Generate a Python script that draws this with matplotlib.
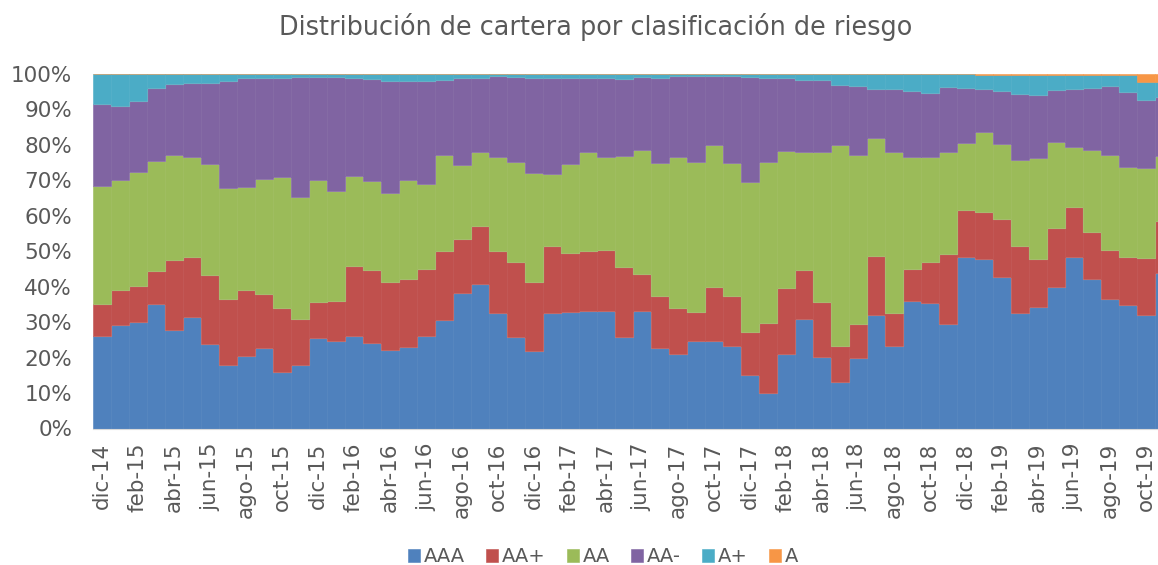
import numpy as np
import matplotlib
matplotlib.use("Agg")
import matplotlib.pyplot as plt
from matplotlib.ticker import PercentFormatter

# meses: dic-14 .. nov-19 (el ultimo queda cortado en el borde)
MESES_ES = ['ene', 'feb', 'mar', 'abr', 'may', 'jun', 'jul', 'ago', 'sep', 'oct', 'nov', 'dic']
meses = ['dic-14']
for anio in range(15, 20):
    for m in MESES_ES:
        meses.append(f'{m}-{anio}')
meses = meses[:60]

AAA = [26.1, 29.3, 30.0, 35.0, 27.7, 31.4, 23.7, 17.8, 20.4, 22.8,
       15.8, 17.9, 25.4, 24.6, 26.1, 24.1, 22.1, 22.9, 26.2, 30.6,
       38.1, 40.9, 32.7, 25.9, 22.0, 32.5, 33.0, 33.1, 33.1, 25.9,
       33.1, 22.6, 21.0, 24.7, 24.6, 23.3, 15.1, 10.1, 20.9, 31.0,
       20.2, 13.0, 19.8, 31.9, 23.4, 35.9, 35.4, 29.4, 48.5, 47.9,
       42.7, 32.5, 34.3, 40.0, 48.3, 42.1, 36.5, 34.9, 31.9, 44.0]
AA_plus = [9.1, 9.8, 10.2, 9.3, 19.7, 17.0, 19.7, 18.7, 18.6, 15.2,
           18.3, 13.0, 10.3, 11.4, 19.8, 20.7, 19.3, 19.2, 18.9, 19.5,
           15.3, 16.3, 17.3, 21.1, 19.4, 19.1, 16.4, 17.0, 17.3, 19.6,
           10.5, 14.8, 13.1, 8.3, 15.3, 14.0, 12.1, 19.6, 18.8, 13.7,
           15.5, 10.4, 9.6, 16.7, 9.1, 9.1, 11.6, 19.9, 13.1, 13.2,
           16.5, 18.9, 13.6, 16.6, 14.3, 13.2, 13.8, 13.5, 16.3, 14.6]
AA = [33.2, 31.0, 32.1, 31.2, 29.8, 28.3, 31.2, 31.3, 29.0, 32.5,
      36.8, 34.3, 34.4, 30.9, 25.3, 25.0, 25.0, 28.0, 23.9, 27.1,
      20.8, 20.8, 26.7, 28.3, 30.8, 20.3, 25.1, 28.0, 26.1, 31.4,
      35.1, 37.4, 42.4, 42.2, 40.0, 37.5, 42.2, 45.5, 38.6, 33.2,
      42.3, 56.5, 47.7, 33.3, 45.6, 31.7, 29.5, 28.7, 18.9, 22.5,
      21.0, 24.3, 28.4, 24.2, 16.8, 23.2, 26.8, 25.5, 25.2, 18.4]
AA_minus = [23.0, 20.8, 20.2, 20.6, 20.1, 20.9, 22.8, 30.3, 30.9, 28.5,
            28.1, 33.9, 29.1, 32.3, 27.6, 28.7, 31.5, 28.0, 28.9, 21.0,
            24.6, 21.0, 22.6, 23.9, 26.6, 27.1, 24.5, 20.7, 22.3, 21.8,
            20.5, 24.1, 22.8, 24.3, 19.6, 24.6, 29.8, 23.6, 20.7, 20.5,
            20.4, 16.9, 19.4, 13.8, 17.7, 18.4, 18.1, 18.2, 15.5, 12.1,
            15.1, 18.7, 17.7, 14.6, 16.5, 17.5, 19.4, 21.1, 19.2, 16.6]
A_plus = [8.6, 9.1, 7.5, 3.9, 2.7, 2.4, 2.6, 1.9, 1.1, 1.0,
          1.0, 0.9, 0.8, 0.8, 1.2, 1.5, 2.1, 1.9, 2.1, 1.8,
          1.2, 1.0, 0.7, 0.8, 1.2, 1.0, 1.0, 1.2, 1.2, 1.3,
          0.8, 1.1, 0.7, 0.5, 0.5, 0.6, 0.8, 1.2, 1.0, 1.6,
          1.6, 3.2, 3.5, 4.3, 4.2, 4.9, 5.4, 3.8, 4.0, 4.0,
          4.4, 5.3, 5.7, 4.3, 3.8, 3.7, 3.3, 4.8, 5.1, 4.1]
A = [0.0] * 49 + [0.3, 0.3, 0.3, 0.3, 0.3, 0.3, 0.3, 0.2, 0.2, 2.3, 2.3]
A = A[:60]

SERIES = ['AAA', 'AA+', 'AA', 'AA-', 'A+', 'A']
COLORI = ['#4F81BD', '#C0504D', '#9BBB59', '#8064A2', '#4BACC6', '#F79646']
GRIGIO = '#595959'

valori = [AAA, AA_plus, AA, AA_minus, A_plus, A]

fig = plt.figure(figsize=(11.58, 5.65), dpi=100)
ax = fig.add_axes([93 / 1158, 1 - 428.5 / 565, 1 - 93 / 1158, 354.5 / 565])

x = np.arange(len(meses))
bordi = np.arange(len(meses) + 1) - 0.5
base = np.zeros(len(meses))
for nome, col, val in zip(SERIES, COLORI, valori):
    val = np.array(val)
    ax.bar(x, val, width=1.0, bottom=base, color=col, edgecolor=col,
           linewidth=0.4, label=nome)
    base += val
    # contorno chiaro dell'area, come in Excel
    if nome not in ('A+', 'A'):
        ax.stairs(base, bordi, baseline=None, color='#D8D0D0', linewidth=0.8, alpha=0.8)

ax.set_xlim(-0.5, 1065.5 / 18 - 0.5)
ax.set_ylim(0, 100)
ax.set_yticks(np.arange(0, 101, 10))
ax.yaxis.set_major_formatter(PercentFormatter(decimals=0))
ax.set_xticks(x[::2])
ax.set_xticklabels(meses[::2], rotation=90)
ax.tick_params(axis='both', length=0, labelsize=15.5, labelcolor=GRIGIO)
ax.tick_params(axis='x', pad=10)
ax.tick_params(axis='y', pad=15)
for s in ['top', 'right', 'left']:
    ax.spines[s].set_visible(False)
ax.spines['bottom'].set_color('#D9D9D9')

fig.text(596 / 1158, 1 - 27 / 565, 'Distribución de cartera por clasificación de riesgo',
         ha='center', va='center', fontsize=18.4, color=GRIGIO)

fig.legend(loc='center', bbox_to_anchor=(603 / 1158, 1 - 557 / 565), ncol=6,
           frameon=False, fontsize=14, labelcolor=GRIGIO, handlelength=0.6,
           handleheight=0.6, handletextpad=0.2, columnspacing=1.1)

fig.savefig('out.png', dpi=100)
